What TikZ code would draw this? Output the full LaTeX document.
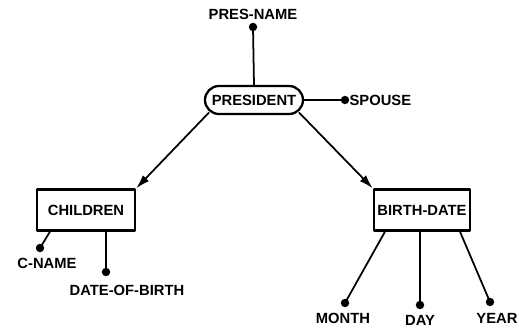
\documentclass[tikz,border=0pt]{standalone}
\usepackage{fontspec}
\setsansfont{Liberation Sans}
\usetikzlibrary{arrows.meta,calc}

\begin{document}
\begin{tikzpicture}[line cap=round, line join=round, x=1cm, y=1cm,
                lbl/.style={font=\sffamily\bfseries\fontsize{8.4}{9}\selectfont, inner sep=1pt},
                attr/.style={circle, fill=black, inner sep=0pt, minimum size=4.8pt},
                entity/.style={draw, line width=1.3pt, lbl, minimum height=0.82cm, inner sep=2pt},
                link/.style={line width=1pt},
                isa/.style={line width=1pt, -{Latex[length=2.8mm, width=1.7mm]}}]

                \useasboundingbox (0,0) rectangle (10.38,6.6);

                \node[draw, line width=1.3pt, rounded corners=0.28cm, lbl, minimum width=1.96cm, minimum height=0.56cm] (president) at (5.08,4.6) {PRESIDENT};
                \node[entity, minimum width=1.96cm] (children) at (1.72,2.4) {CHILDREN};
                \node[entity, minimum width=1.8cm] (birthdate) at (8.44,2.4) {BIRTH-DATE};

                \node[attr] (presnamedot) at (5.06,6.06) {};
                \node[lbl] (presname) at (5.06,6.32) {PRES-NAME};
                \node[attr] (spousedot) at (6.9,4.6) {};
                \node[lbl, anchor=west] (spouse) at (6.95,4.6) {SPOUSE};

                \node[attr] (cnamedot) at (0.8,1.64) {};
                \node[lbl] (cname) at (0.94,1.34) {C-NAME};
                \node[attr] (dobdot) at (2.12,1.16) {};
                \node[lbl] (dob) at (2.54,0.8) {DATE-OF-BIRTH};

                \node[attr] (monthdot) at (6.9,0.54) {};
                \node[lbl] (month) at (6.86,0.24) {MONTH};
                \node[attr] (daydot) at (8.4,0.5) {};
                \node[lbl] (day) at (8.4,0.2) {DAY};
                \node[attr] (yeardot) at (9.8,0.56) {};
                \node[lbl] (year) at (9.94,0.24) {YEAR};

                \draw[link] (president.north) -- (presnamedot.center);
                \draw[link] (president.east) -- (spousedot.center);

                \draw[isa] ([xshift=0.1cm, yshift=0.05cm]president.south west) -- (children.north east);
                \draw[isa] ([xshift=-0.1cm, yshift=0.05cm]president.south east) -- (birthdate.north west);

                \draw[link] ([xshift=-0.72cm]children.south) -- (cnamedot.center);
                \draw[link] ([xshift=0.4cm]children.south) -- (dobdot.center);

                \draw[link] ([xshift=-0.74cm]birthdate.south) -- (monthdot.center);
                \draw[link] ([xshift=-0.04cm]birthdate.south) -- (daydot.center);
                \draw[link] ([xshift=0.76cm]birthdate.south) -- (yeardot.center);

\end{tikzpicture}
\end{document}
